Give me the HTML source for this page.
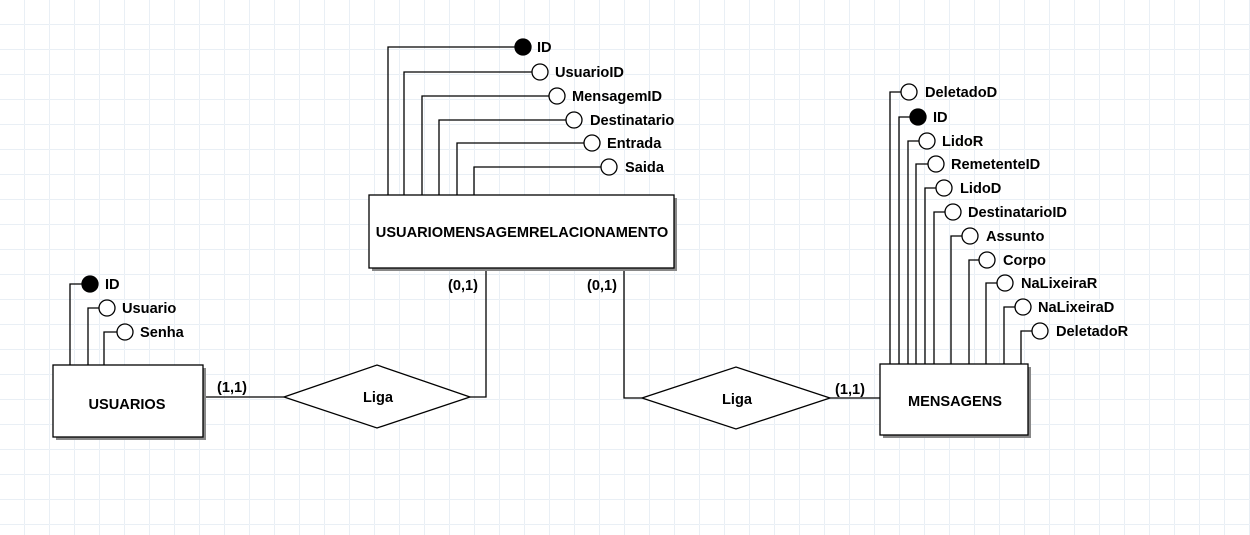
<!DOCTYPE html>
<html><head><meta charset="utf-8"><style>
html,body{margin:0;padding:0;background:#fff;}
svg{display:block;}
text{font-family:"Liberation Sans",Arial,sans-serif;font-weight:bold;font-size:14.6px;fill:#000;}
</style></head><body>
<svg width="1250" height="535" xmlns="http://www.w3.org/2000/svg">
<defs><pattern id="g" width="25" height="25" patternUnits="userSpaceOnUse"><path d="M25 0V25M0 25H25" stroke="#e9eff5" stroke-width="1" fill="none" transform="translate(-0.5,-0.5)"/></pattern></defs>
<rect width="1250" height="535" fill="url(#g)"/>
<g stroke="#000" stroke-width="1.3" fill="none">
<path d="M70 365V284H82M88 365V308H99M104 365V332H117"/>
<path d="M388 195V47H515M404 195V72H532M422 195V96H549M439 195V120H566M457 195V143H584M474 195V167H601"/>
<path d="M890 364V92H901M899 364V117H910M908 364V141H919M916 364V164H928M925 364V188H936M934 364V212H945M951 364V236H962M969 364V260H979M986 364V283H997M1004 364V307H1015M1021 364V331H1032"/>
<path d="M203 397H284M470 397H486V268M624 268V398H642M830 398H880"/>
</g>
<g fill="#888"><rect x="56" y="368" width="150" height="72"/><rect x="372" y="198" width="305" height="73"/><rect x="883" y="367" width="148" height="71"/></g>
<g fill="#fff" stroke="#000" stroke-width="1.3">
<rect x="53" y="365" width="150" height="72"/>
<rect x="369" y="195" width="305" height="73"/>
<rect x="880" y="364" width="148" height="71"/>
<polygon points="284,397 377,365 470,397 377,428"/>
<polygon points="642,398 736,367 830,398 736,429"/>
<circle cx="90" cy="284" r="8" fill="#000"/><circle cx="107" cy="308" r="8"/><circle cx="125" cy="332" r="8"/>
<circle cx="523" cy="47" r="8" fill="#000"/><circle cx="540" cy="72" r="8"/><circle cx="557" cy="96" r="8"/><circle cx="574" cy="120" r="8"/><circle cx="592" cy="143" r="8"/><circle cx="609" cy="167" r="8"/>
<circle cx="909" cy="92" r="8"/><circle cx="918" cy="117" r="8" fill="#000"/><circle cx="927" cy="141" r="8"/><circle cx="936" cy="164" r="8"/><circle cx="944" cy="188" r="8"/><circle cx="953" cy="212" r="8"/><circle cx="970" cy="236" r="8"/><circle cx="987" cy="260" r="8"/><circle cx="1005" cy="283" r="8"/><circle cx="1023" cy="307" r="8"/><circle cx="1040" cy="331" r="8"/>
</g>
<text x="127" y="409" text-anchor="middle">USUARIOS</text>
<text x="522" y="237" text-anchor="middle">USUARIOMENSAGEMRELACIONAMENTO</text>
<text x="955" y="406" text-anchor="middle">MENSAGENS</text>
<text x="378" y="402" text-anchor="middle">Liga</text>
<text x="737" y="404" text-anchor="middle">Liga</text>
<text x="217" y="392">(1,1)</text>
<text x="448" y="290">(0,1)</text>
<text x="587" y="290">(0,1)</text>
<text x="835" y="394">(1,1)</text>
<text x="105" y="289">ID</text><text x="122" y="313">Usuario</text><text x="140" y="337">Senha</text>
<text x="537" y="52">ID</text><text x="555" y="77">UsuarioID</text><text x="572" y="101">MensagemID</text><text x="590" y="125">Destinatario</text><text x="607" y="148">Entrada</text><text x="625" y="172">Saida</text>
<text x="925" y="97">DeletadoD</text><text x="933" y="122">ID</text><text x="942" y="146">LidoR</text><text x="951" y="169">RemetenteID</text><text x="960" y="193">LidoD</text><text x="968" y="217">DestinatarioID</text><text x="986" y="241">Assunto</text><text x="1003" y="265">Corpo</text><text x="1021" y="288">NaLixeiraR</text><text x="1038" y="312">NaLixeiraD</text><text x="1056" y="336">DeletadoR</text>
</svg>
</body></html>
